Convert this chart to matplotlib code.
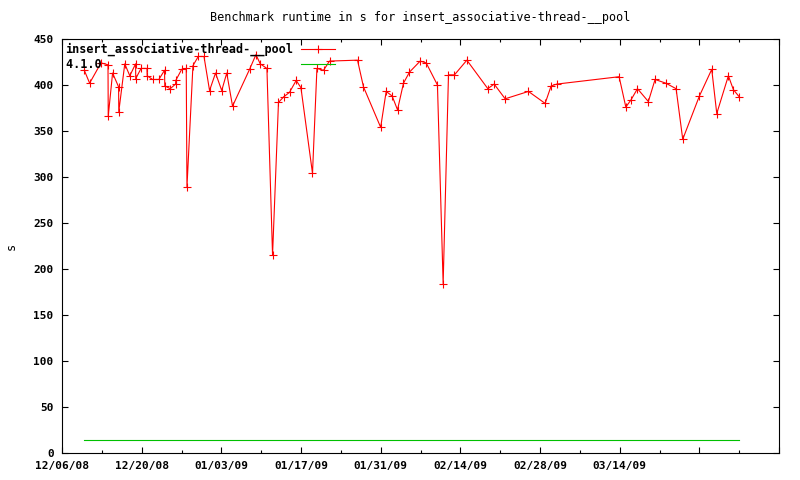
import matplotlib
matplotlib.use("Agg")
import matplotlib.pyplot as plt
import pandas as pd

title = "Benchmark runtime in s for insert_associative-thread-__pool"
series_name = "insert_associative-thread-__pool"
baseline_name = "4.1.0"

run_dates = [
    "2008-12-09 22:00", "2008-12-10 20:30", "2008-12-12 20:30", "2008-12-14 02:00",
    "2008-12-14 03:00", "2008-12-14 21:20", "2008-12-15 22:40", "2008-12-15 23:30",
    "2008-12-17 00:45", "2008-12-17 22:00", "2008-12-18 22:20", "2008-12-18 23:00",
    "2008-12-19 21:30", "2008-12-20 22:20", "2008-12-20 23:15", "2008-12-21 22:00",
    "2008-12-23 00:30", "2008-12-24 00:30", "2008-12-24 01:30", "2008-12-25 00:30",
    "2008-12-25 23:00", "2008-12-26 00:00", "2008-12-27 00:40", "2008-12-27 20:00",
    "2008-12-27 23:00", "2008-12-29 00:15", "2008-12-29 22:40", "2008-12-30 22:50",
    "2008-12-31 22:20", "2009-01-01 23:30", "2009-01-03 01:40", "2009-01-03 22:50",
    "2009-01-04 23:15", "2009-01-07 23:00", "2009-01-09 02:00", "2009-01-09 20:00",
    "2009-01-11 00:15", "2009-01-12 00:00", "2009-01-13 01:00", "2009-01-13 22:20",
    "2009-01-14 23:30", "2009-01-16 03:50", "2009-01-16 23:45", "2009-01-19 00:30",
    "2009-01-19 19:10", "2009-01-20 23:00", "2009-01-22 00:15", "2009-01-26 22:20",
    "2009-01-27 23:30", "2009-01-31 00:00", "2009-01-31 23:15", "2009-02-02 00:30",
    "2009-02-02 23:00", "2009-02-04 00:15", "2009-02-05 01:30", "2009-02-06 22:40",
    "2009-02-08 00:00", "2009-02-09 23:30", "2009-02-10 23:30", "2009-02-11 22:00",
    "2009-02-12 23:15", "2009-02-15 03:30", "2009-02-18 20:00", "2009-02-19 22:40",
    "2009-02-21 21:00", "2009-02-25 23:15", "2009-02-28 21:40", "2009-03-01 23:00",
    "2009-03-02 23:00", "2009-03-13 21:40", "2009-03-15 02:00", "2009-03-16 00:15",
    "2009-03-17 03:00", "2009-03-19 01:00", "2009-03-20 05:20", "2009-03-22 02:30",
    "2009-03-23 22:00", "2009-03-25 02:00", "2009-03-28 00:15", "2009-03-30 04:20",
    "2009-03-31 01:30", "2009-04-02 02:30", "2009-04-02 23:30", "2009-04-04 00:45",
]
run_values = [
    416, 402, 424, 422, 366, 413, 398, 371,
    423, 410, 423, 407, 418, 418, 410, 406,
    406, 416, 399, 396, 401, 405, 417, 418,
    289, 421, 431, 431, 394, 413, 394, 413,
    377, 417, 433, 423, 418, 215, 381, 387,
    392, 405, 397, 304, 418, 416, 426, 427,
    398, 354, 393, 388, 373, 402, 414, 426,
    424, 400, 184, 411, 411, 427, 396, 401,
    385, 393, 380, 399, 401, 409, 376, 384,
    396, 382, 406, 402, 396, 341, 388, 417,
    369, 410, 395, 387,
]
baseline_dates = ["2008-12-09 22:00", "2009-04-04 00:45"]
baseline_values = [14, 14]

major_tick_dates = ["2008-12-06", "2008-12-20", "2009-01-03", "2009-01-17", "2009-01-31",
                    "2009-02-14", "2009-02-28", "2009-03-14", "2009-03-28", "2009-04-11"]
major_tick_labels = ["12/06/08", "12/20/08", "01/03/09", "01/17/09", "01/31/09",
                     "02/14/09", "02/28/09", "03/14/09", "", ""]
minor_tick_dates = ["2008-12-13", "2008-12-27", "2009-01-10", "2009-01-24", "2009-02-07",
                    "2009-02-21", "2009-03-07", "2009-03-21", "2009-04-04"]
y_ticks = [0, 50, 100, 150, 200, 250, 300, 350, 400, 450]

mono = "DejaVu Sans Mono"

fig = plt.figure(figsize=(8, 4.8), dpi=100)
ax = fig.add_axes([62 / 800, 1 - 453 / 480, (779 - 62) / 800, (453 - 39) / 480])

x_run = pd.to_datetime(run_dates)
x_base = pd.to_datetime(baseline_dates)
ax.plot(x_run, run_values, color="#ff0000", lw=0.8, marker="+", ms=5.5, mew=0.8,
        label=series_name)
ax.plot(x_base, baseline_values, color="#00c000", lw=0.8,
        label=baseline_name.ljust(len(series_name)))

ax.set_xlim(pd.Timestamp("2008-12-06"), pd.Timestamp("2009-04-11"))
ax.set_ylim(0, 450)

ax.set_xticks(pd.to_datetime(major_tick_dates))
ax.set_xticklabels(major_tick_labels)
ax.set_xticks(pd.to_datetime(minor_tick_dates), minor=True)
ax.set_yticks(y_ticks)
ax.set_yticklabels([str(v) for v in y_ticks])

ax.tick_params(axis="both", which="both", direction="in", top=True, right=True,
               width=0.8, colors="black")
ax.tick_params(axis="both", which="major", length=4)
ax.tick_params(axis="x", which="minor", length=2.5)
ax.tick_params(axis="x", which="major", pad=6)
ax.tick_params(axis="y", which="major", pad=6)
for lab in ax.get_xticklabels() + ax.get_yticklabels():
    lab.set_fontfamily(mono)
    lab.set_fontweight("bold")
    lab.set_fontsize(8)
for sp in ax.spines.values():
    sp.set_linewidth(0.8)
    sp.set_color("black")

ax.set_title(title, fontfamily=mono, fontsize=8.5, pad=13)
ax.set_ylabel("s", fontfamily=mono, fontsize=8.5, labelpad=11)

leg = ax.legend(loc="upper left", frameon=False, markerfirst=False,
                prop={"family": mono, "weight": "bold", "size": 8.5},
                handlelength=2.9, handletextpad=0.6, labelspacing=0.15,
                borderpad=0.2, borderaxespad=0.1)

fig.savefig("out.png", dpi=100)
